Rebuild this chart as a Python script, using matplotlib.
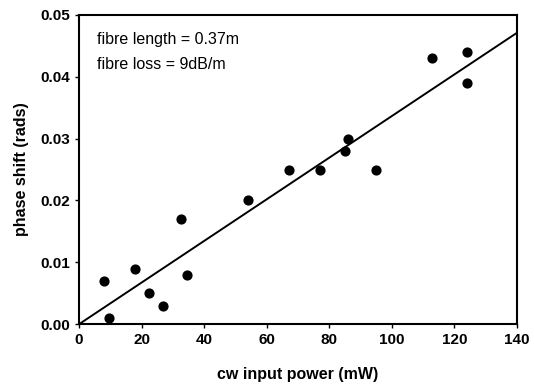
import numpy as np
import matplotlib
matplotlib.use("Agg")
import matplotlib.pyplot as plt
from matplotlib.ticker import FormatStrFormatter

power_mw = [8, 9.5, 18, 22.5, 27, 32.5, 34.5, 54, 67, 77, 85, 86, 95, 113, 124, 124]
phase_rad = [0.007, 0.001, 0.009, 0.005, 0.003, 0.017, 0.008, 0.020,
             0.025, 0.025, 0.028, 0.030, 0.025, 0.043, 0.044, 0.039]
x_ticks = [0, 20, 40, 60, 80, 100, 120, 140]
y_ticks = [0.00, 0.01, 0.02, 0.03, 0.04, 0.05]

plt.rcParams['font.family'] = 'Liberation Sans'

x = np.array(power_mw)
y = np.array(phase_rad)
# least squares fit through the origin
slope = np.sum(x * y) / np.sum(x * x)
x_fit = np.array([0, 140])

fig = plt.figure(figsize=(5.34, 3.92), dpi=100)
ax = fig.add_axes([0.148, 0.173, 0.820, 0.789])

ax.plot(x_fit, slope * x_fit, color='black', linewidth=1.4)
ax.scatter(x, y, s=40, color='black', zorder=3, clip_on=False)

ax.set_xlim(0, 140)
ax.set_ylim(0, 0.05)
ax.set_xticks(x_ticks)
ax.set_yticks(y_ticks)
ax.yaxis.set_major_formatter(FormatStrFormatter('%.2f'))
ax.tick_params(direction='out', length=3, width=1, labelsize=11)
for lbl in ax.get_xticklabels() + ax.get_yticklabels():
    lbl.set_fontweight('bold')
for sp in ax.spines.values():
    sp.set_linewidth(1.5)

ax.set_xlabel('cw input power (mW)', fontsize=11.5, fontweight='bold', labelpad=14)
ax.set_ylabel('phase shift (rads)', fontsize=11.5, fontweight='bold', labelpad=8)

ax.text(0.04, 0.945, 'fibre length = 0.37m', transform=ax.transAxes,
        fontsize=11.5, va='top')
ax.text(0.04, 0.865, 'fibre loss = 9dB/m', transform=ax.transAxes,
        fontsize=11.5, va='top')

fig.savefig('out.png', dpi=100)
